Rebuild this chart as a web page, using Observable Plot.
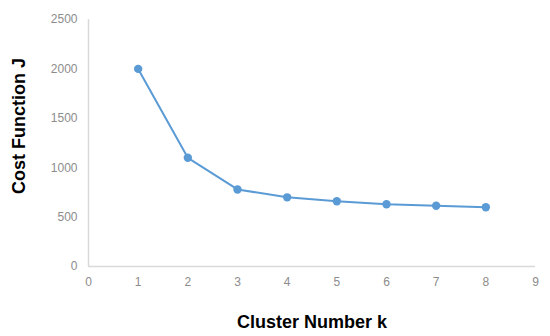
<!DOCTYPE html>
<html>
<head>
<meta charset="utf-8">
<script src="https://cdn.jsdelivr.net/npm/d3@7"></script>
<script src="https://cdn.jsdelivr.net/npm/@observablehq/plot@0.6"></script>
<style>
  html, body { margin: 0; padding: 0; background: #fff; }
  #chart { width: 550px; height: 336px; }
</style>
</head>
<body>
<div id="chart"></div>
<script>
const kValues = [1, 2, 3, 4, 5, 6, 7, 8];
const costValues = [2000, 1100, 780, 700, 660, 630, 615, 600];
const xTicks = [0, 1, 2, 3, 4, 5, 6, 7, 8, 9];
const yTicks = [0, 500, 1000, 1500, 2000, 2500];
const xTitle = "Cluster Number k";
const yTitle = "Cost Function J";

const data = kValues.map((k, i) => ({k, cost: costValues[i]}));
const blue = "#5B9BD5";

const chart = Plot.plot({
  width: 550,
  height: 336,
  marginLeft: 88,
  marginRight: 15,
  marginTop: 19,
  marginBottom: 70,
  style: {fontFamily: "Liberation Sans, Arial, sans-serif", background: "#fff"},
  x: {domain: [0, 9], ticks: xTicks, label: null},
  y: {domain: [0, 2500], ticks: yTicks, label: null},
  marks: [
    Plot.ruleY([0], {stroke: "#d9d9d9", strokeWidth: 1.5}),
    Plot.ruleX([0], {stroke: "#d9d9d9", strokeWidth: 1.5}),
    Plot.axisX(xTicks, {tickSize: 0, tickPadding: 11, fontSize: 12, fill: "#8c8c8c", color: "#8c8c8c", tickFormat: d3.format("d")}),
    Plot.axisY(yTicks, {tickSize: 0, tickPadding: 11, fontSize: 12, fill: "#8c8c8c", color: "#8c8c8c", tickFormat: d3.format("d")}),
    Plot.line(data, {x: "k", y: "cost", stroke: blue, strokeWidth: 2}),
    Plot.dot(data, {x: "k", y: "cost", fill: blue, r: 4.2}),
    Plot.text([xTitle], {frameAnchor: "bottom", lineAnchor: "middle", dy: 56, fontSize: 18, fontWeight: "bold", fill: "#000"}),
    Plot.text([yTitle], {frameAnchor: "left", textAnchor: "middle", lineAnchor: "middle", dx: -69, dy: -17, rotate: -90, fontSize: 18, fontWeight: "bold", fill: "#000"})
  ]
});
document.getElementById("chart").appendChild(chart);
</script>
</body>
</html>
